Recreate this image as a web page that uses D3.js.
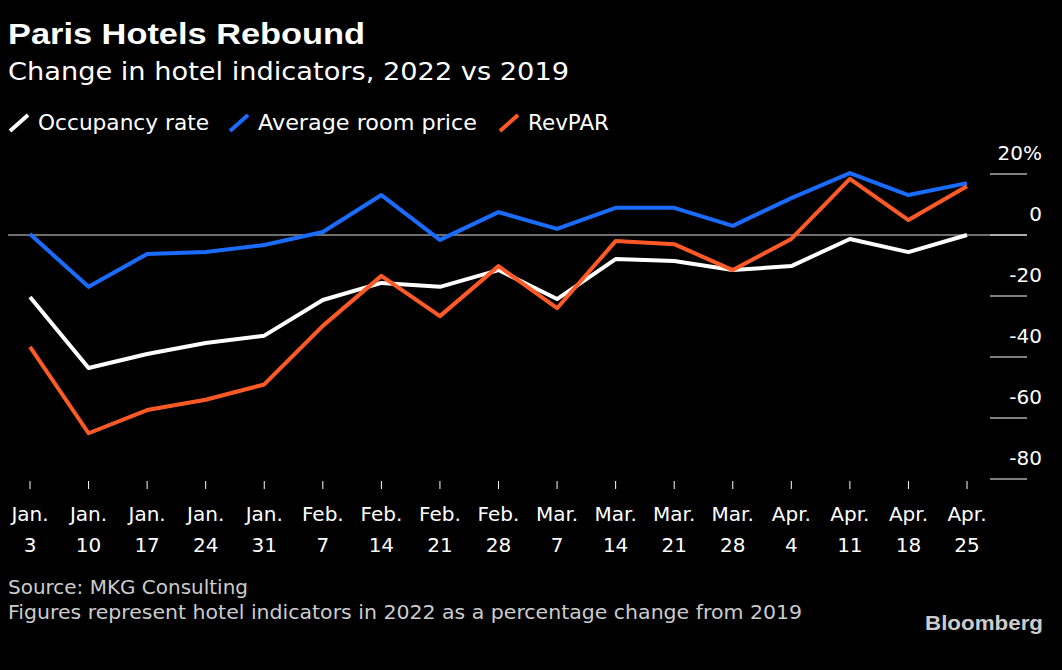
<!DOCTYPE html>
<html><head><meta charset="utf-8">
<script src="https://cdn.jsdelivr.net/npm/d3@7"></script>
<style>body{margin:0;background:#000;font-family:"DejaVu Sans",sans-serif;}</style>
</head><body><div id="chart"></div>
<script>
const months = ["Jan.","Jan.","Jan.","Jan.","Jan.","Feb.","Feb.","Feb.","Feb.","Mar.","Mar.","Mar.","Mar.","Apr.","Apr.","Apr.","Apr."];
const days = [3,10,17,24,31,7,14,21,28,7,14,21,28,4,11,18,25];
const occupancy = [-20.3,-43.6,-39,-35.4,-33,-21.3,-15.7,-17,-11.5,-21,-7.9,-8.5,-11.5,-10.2,-1.3,-5.6,0];
const roomPrice = [0.3,-17,-6.2,-5.6,-3.3,1,13.1,-1.6,7.5,2,8.9,8.9,3,12.1,20.3,13.1,17];
const revpar = [-36.7,-65,-57.4,-54,-49,-29.8,-13.4,-26.6,-10.2,-24,-2,-3,-11.5,-1.3,18.4,4.9,16];
const yTicks = [20,0,-20,-40,-60,-80];
const series = [
  {name:"Occupancy rate", values:occupancy, color:"#ffffff", tx:38, tw:171},
  {name:"Average room price", values:roomPrice, color:"#1a6cff", tx:258, tw:219},
  {name:"RevPAR", values:revpar, color:"#ff5a26", tx:528, tw:81}
];

const svg = d3.select("#chart").append("svg").attr("width",1062).attr("height",670).style("background","#000");
const x = d3.scaleLinear().domain([0,16]).range([30,967]);
const y = d3.scaleLinear().domain([-80,20]).range([479,174]);

svg.append("text").attr("x",8).attr("y",44).attr("fill","#fff").attr("font-size",29).attr("font-weight","bold")
  .attr("font-family","Liberation Sans, Arial, sans-serif").attr("textLength",357).attr("lengthAdjust","spacingAndGlyphs").text("Paris Hotels Rebound");
svg.append("text").attr("x",8).attr("y",80).attr("fill","#fff").attr("font-size",24)
  .attr("textLength",561).attr("lengthAdjust","spacingAndGlyphs").text("Change in hotel indicators, 2022 vs 2019");

// legend
series.forEach(s => {
  svg.append("line").attr("x1",s.tx-28).attr("y1",131).attr("x2",s.tx-10).attr("y2",115).attr("stroke",s.color).attr("stroke-width",4);
  svg.append("text").attr("x",s.tx).attr("y",130).attr("fill","#fff").attr("font-size",21)
    .attr("textLength",s.tw).attr("lengthAdjust","spacingAndGlyphs").text(s.name);
});

// y ticks
yTicks.forEach(v => {
  svg.append("line").attr("x1",990).attr("x2",1027).attr("y1",y(v)).attr("y2",y(v)).attr("stroke","#fff").attr("stroke-width",1);
  svg.append("text").attr("x",1042).attr("y",y(v)-14).attr("text-anchor","end").attr("fill","#fff").attr("font-size",20)
    .text(v===20 ? "20%" : v);
});
svg.append("line").attr("x1",8).attr("x2",1027).attr("y1",y(0)).attr("y2",y(0)).attr("stroke","#ddd").attr("stroke-width",1);

// x labels
days.forEach((d,i) => {
  svg.append("line").attr("x1",x(i)).attr("x2",x(i)).attr("y1",481).attr("y2",489).attr("stroke","#fff");
  svg.append("text").attr("x",x(i)).attr("y",521).attr("text-anchor","middle").attr("fill","#fff").attr("font-size",20).text(months[i]);
  svg.append("text").attr("x",x(i)).attr("y",552).attr("text-anchor","middle").attr("fill","#fff").attr("font-size",20).text(d);
});

const line = d3.line().x((d,i)=>x(i)).y(d=>y(d));
series.forEach(s => {
  svg.append("path").attr("d",line(s.values)).attr("fill","none").attr("stroke",s.color).attr("stroke-width",4).attr("stroke-linejoin","round");
});

svg.append("text").attr("x",8).attr("y",594).attr("fill","#ccc").attr("font-size",19)
  .attr("textLength",240).attr("lengthAdjust","spacingAndGlyphs").text("Source: MKG Consulting");
svg.append("text").attr("x",8).attr("y",619).attr("fill","#ccc").attr("font-size",19)
  .attr("textLength",794).attr("lengthAdjust","spacingAndGlyphs").text("Figures represent hotel indicators in 2022 as a percentage change from 2019");
svg.append("text").attr("x",925).attr("y",630).attr("fill","#ccc").attr("font-size",21).attr("font-weight","bold")
  .attr("font-family","Liberation Sans, Arial, sans-serif").attr("textLength",118).attr("lengthAdjust","spacingAndGlyphs").text("Bloomberg");
</script></body></html>
